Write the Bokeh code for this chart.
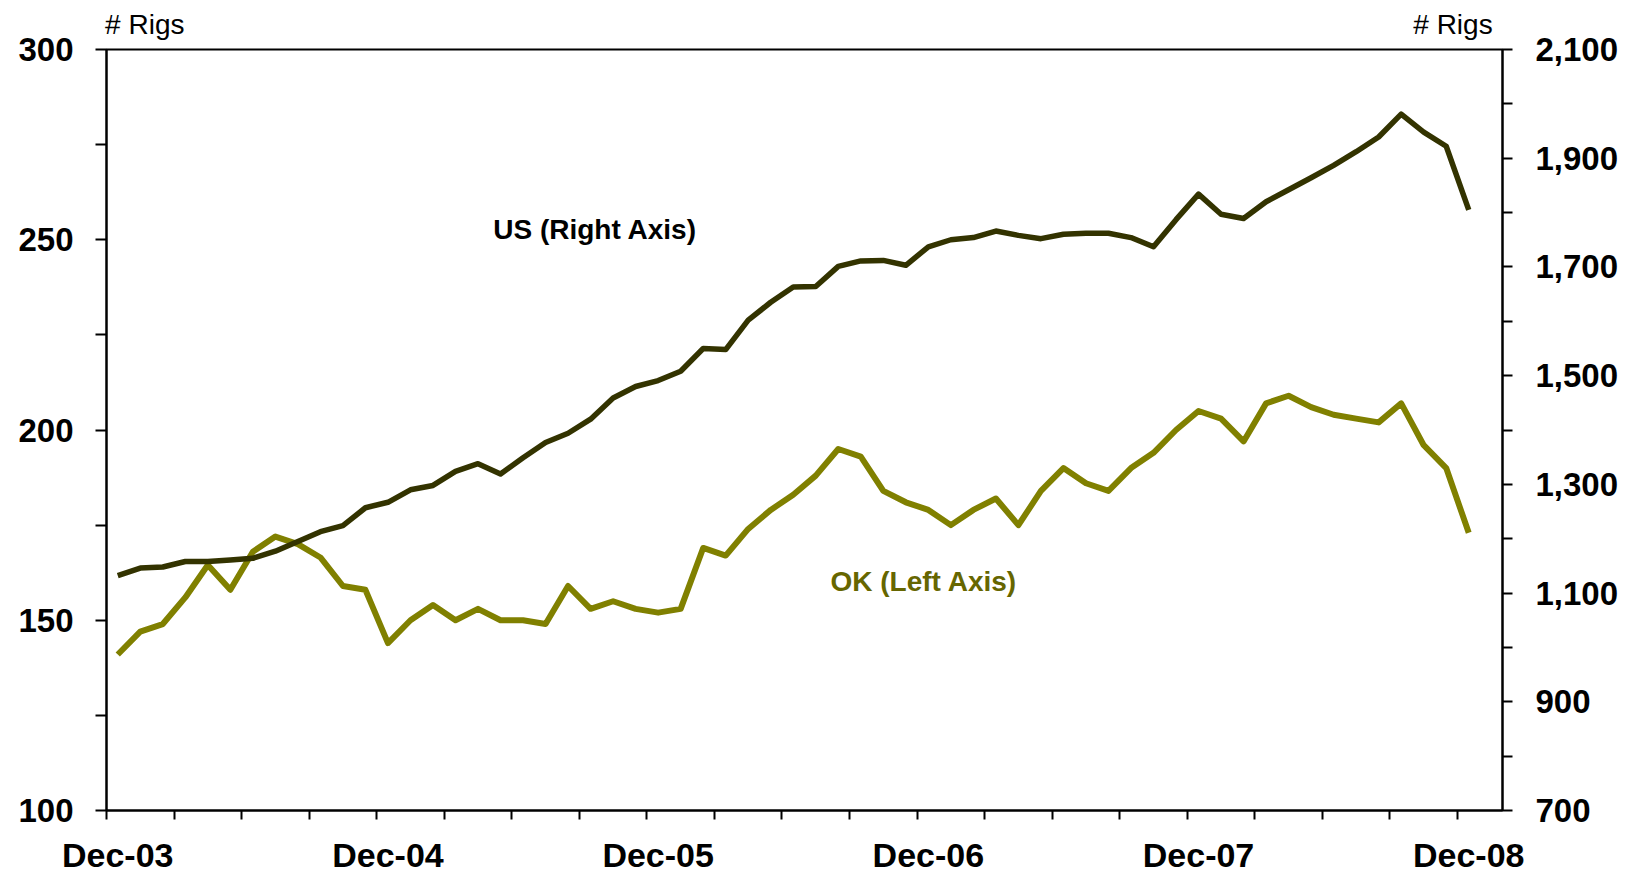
from bokeh.plotting import figure
from bokeh.models import (Range1d, LinearAxis, FixedTicker, NumeralTickFormatter, Label)
from bokeh.embed import file_html
from bokeh.resources import INLINE

# ---- data (monthly, Dec-03 .. Dec-08) ----
month_labels = ["Dec-03", "Dec-04", "Dec-05", "Dec-06", "Dec-07", "Dec-08"]
ok_rigs = [141, 147, 149, 156, 164.5, 158, 168, 172, 170, 166.5, 159, 158,
           144, 150, 154, 150, 153, 150, 150, 149, 159, 153, 155, 153,
           152, 153, 169, 167, 174, 179, 183, 188, 195, 193, 184, 181,
           179, 175, 179, 182, 175, 184, 190, 186, 184, 190, 194, 200,
           205, 203, 197, 207, 209, 206, 204, 203, 202, 207, 196, 190,
           173]
us_rigs = [1132, 1146, 1148, 1158, 1158, 1161, 1164, 1177, 1195, 1213, 1224, 1257,
           1267, 1290, 1298, 1324, 1338, 1319, 1349, 1377, 1394, 1420, 1459, 1480,
           1491, 1508, 1550, 1548, 1602, 1635, 1663, 1664, 1701, 1711, 1712, 1703,
           1737, 1750, 1754, 1766, 1758, 1752, 1760, 1762, 1762, 1754, 1737, 1787,
           1834, 1797, 1789, 1820, 1842, 1864, 1887, 1912, 1939, 1981, 1948, 1922,
           1805]
left_ticks = [100, 150, 200, 250, 300]
right_ticks = [700, 900, 1100, 1300, 1500, 1700, 1900, 2100]
unit_label = "# Rigs"

n_months = 62  # category slots on the axis (Dec-03 .. Jan-09)
xs = [i + 0.5 for i in range(len(ok_rigs))]

FONT = "Liberation Sans"
OK_COLOR = "#808000"
US_COLOR = "#333300"

p = figure(width=1645, height=876, output_backend="svg", toolbar_location=None,
           x_range=Range1d(0, n_months), y_range=Range1d(100, 300),
           min_border_left=106, min_border_right=143, min_border_top=49,
           min_border_bottom=66)
p.extra_y_ranges = {"us": Range1d(700, 2100)}

p.xgrid.visible = False
p.ygrid.visible = False
p.background_fill_color = "white"
p.border_fill_color = "white"
p.outline_line_color = "black"
p.outline_line_width = 2

# x axis: labels at category centres, ticks at quarter boundaries
xa = p.xaxis[0]
major_x = [12 * k + 0.5 for k in range(len(month_labels))]
xa.ticker = FixedTicker(ticks=major_x, minor_ticks=list(range(0, 61, 3)))
xa.major_label_overrides = {t: lab for t, lab in zip(major_x, month_labels)}
xa.major_tick_out = 0
xa.major_tick_in = 0
xa.minor_tick_out = 9
xa.minor_tick_in = 0
xa.minor_tick_line_width = 2
xa.minor_tick_line_color = "black"
xa.axis_line_width = 2
xa.axis_line_color = "black"
xa.major_label_text_font = FONT
xa.major_label_text_font_style = "bold"
xa.major_label_text_font_size = "34px"
xa.major_label_text_line_height = 1.0
xa.major_label_text_color = "black"
xa.major_label_standoff = 16

# top: unit captions above each value axis
ta = LinearAxis()
ta.ticker = FixedTicker(ticks=[1.7, 59.8], minor_ticks=[])
ta.major_label_overrides = {1.7: unit_label, 59.8: unit_label}
ta.axis_line_color = None
ta.major_tick_line_color = None
ta.minor_tick_line_color = None
ta.major_tick_out = 0
ta.major_tick_in = 0
ta.major_label_text_font = FONT
ta.major_label_text_font_size = "28px"
ta.major_label_text_line_height = 1.0
ta.major_label_text_color = "black"
ta.major_label_standoff = 10
p.add_layout(ta, "above")

# left axis
ya = p.yaxis[0]
ya.ticker = FixedTicker(ticks=left_ticks, minor_ticks=[125, 175, 225, 275])
ya.major_tick_out = 11
ya.major_tick_in = 0
ya.minor_tick_out = 11
ya.minor_tick_in = 0
ya.major_tick_line_width = 2
ya.minor_tick_line_width = 2
ya.axis_line_width = 2
ya.major_label_text_font = FONT
ya.major_label_text_font_style = "bold"
ya.major_label_text_font_size = "33px"
ya.major_label_text_color = "black"
ya.major_label_standoff = 22

# right axis
ra = LinearAxis(y_range_name="us")
ra.ticker = FixedTicker(ticks=right_ticks, minor_ticks=[800, 1000, 1200, 1400, 1600, 1800, 2000])
ra.formatter = NumeralTickFormatter(format="0,0")
ra.major_tick_out = 10
ra.major_tick_in = 0
ra.minor_tick_out = 10
ra.minor_tick_in = 0
ra.major_tick_line_width = 2
ra.minor_tick_line_width = 2
ra.axis_line_width = 2
ra.major_label_text_font = FONT
ra.major_label_text_font_style = "bold"
ra.major_label_text_font_size = "33px"
ra.major_label_text_color = "black"
ra.major_label_standoff = 23
p.add_layout(ra, "right")

# series
p.line(xs, ok_rigs, line_color=OK_COLOR, line_width=6, line_join="round")
p.line(xs, us_rigs, line_color=US_COLOR, line_width=5.5, line_join="round",
       y_range_name="us")

# annotations
p.add_layout(Label(x=21.7, y=252.7, text="US (Right Axis)", text_font=FONT,
                   text_font_style="bold", text_font_size="28px",
                   text_color="black", text_align="center",
                   text_baseline="alphabetic"))
p.add_layout(Label(x=36.3, y=160.1, text="OK (Left Axis)", text_font=FONT,
                   text_font_style="bold", text_font_size="28px",
                   text_color="#666600", text_align="center",
                   text_baseline="alphabetic"))

open("out.html", "w").write(file_html(p, INLINE))
